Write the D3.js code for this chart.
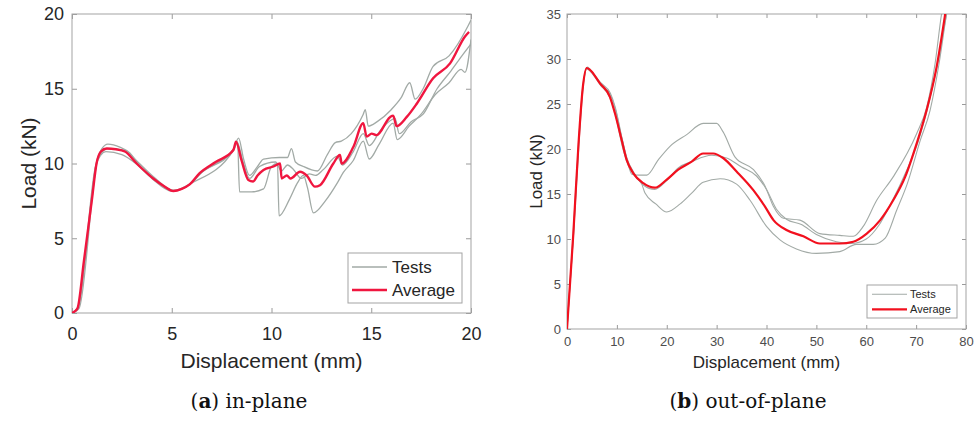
<!DOCTYPE html>
<html>
<head>
<meta charset="utf-8">
<script src="https://cdn.jsdelivr.net/npm/d3@7"></script>
<style>
  body { margin: 0; background: #fff; }
  svg { display: block; }
  .tick line { stroke: #9a9a9a; }
  .domain { display: none; }
</style>
</head>
<body>
<svg id="chart" width="977" height="421"></svg>
<script>
// ---- data (a) in-plane: [displacement mm, load kN] ----
var inPlaneAverage = [[0,0],[0.27,0.3],[0.6,3.5],[1.0,7.6],[1.23,10.0],[1.45,10.8],[1.74,11.0],[2.2,10.95],[2.65,10.8],[3.24,10.0],[4.07,9.0],[4.6,8.5],[5.08,8.16],[5.5,8.3],[5.9,8.6],[6.4,9.35],[7.2,10.1],[8.09,10.9],[8.22,11.46],[8.5,10.2],[8.84,8.9],[9.08,8.8],[9.3,9.2],[9.6,9.57],[10.1,9.8],[10.43,10.0],[10.51,9.0],[10.77,9.2],[10.95,9.0],[11.43,9.45],[11.76,9.2],[12.18,8.45],[12.43,8.55],[13.1,10.0],[13.43,10.57],[13.52,10.0],[14.1,11.1],[14.6,12.7],[14.77,11.8],[15.02,12.0],[15.27,11.9],[15.94,13.1],[16.1,13.2],[16.27,12.5],[16.77,13.1],[17.28,14.0],[18.1,15.7],[18.95,16.7],[19.7,18.5],[19.9,18.8]];
var inPlaneTest1 = [[0,0],[0.3,0.4],[1.25,10.2],[1.5,11.0],[1.8,11.3],[2.4,11.1],[2.9,10.7],[3.3,10.0],[4.1,9.0],[5.1,8.2],[5.9,8.6],[6.5,9.4],[8.1,11.0],[8.35,11.7],[8.6,10.3],[8.9,9.2],[9.3,9.8],[9.6,10.3],[10.4,10.4],[10.8,10.4],[11.0,11.0],[11.2,10.1],[11.6,9.8],[12.3,9.5],[12.8,10.6],[13.2,11.4],[13.5,11.5],[14.0,12.0],[14.6,13.3],[14.7,13.6],[14.85,12.5],[15.3,12.8],[16.0,13.6],[16.5,14.4],[16.93,15.4],[17.2,14.3],[17.6,15.0],[18.1,16.5],[18.9,17.2],[19.85,19.2],[20,19.6]];
var inPlaneTest2 = [[0,0],[0.3,0.3],[1.2,9.9],[1.7,10.8],[2.5,10.6],[3.2,10.0],[4.0,9.0],[5.0,8.15],[5.8,8.5],[6.4,9.3],[8.1,10.9],[8.3,11.4],[8.4,8.1],[9.0,8.1],[9.6,8.3],[10.0,9.8],[10.3,10.0],[10.38,6.5],[10.9,7.6],[11.3,8.7],[11.6,9.2],[11.8,8.4],[12.1,6.7],[12.7,7.5],[13.3,8.7],[13.6,9.4],[14.1,10.2],[14.6,11.5],[14.9,10.3],[15.4,11.3],[16.1,12.7],[16.3,11.6],[16.9,12.5],[17.5,13.3],[18.2,14.6],[18.9,15.4],[19.5,16.3],[19.7,16.1],[20,18.3]];
var inPlaneTest3 = [[0,0],[0.35,0.3],[1.3,10.3],[1.8,11.0],[2.6,10.9],[3.3,10.1],[4.1,9.1],[5.1,8.2],[6.0,8.7],[8.1,10.9],[8.25,11.5],[8.6,10.0],[8.9,9.0],[9.4,9.8],[10.2,10.1],[10.5,9.5],[10.8,9.9],[11.1,9.6],[11.5,9.0],[11.9,9.3],[12.2,9.2],[12.6,9.6],[13.3,10.5],[13.55,9.9],[14.1,10.8],[14.6,12.0],[14.9,11.2],[15.5,12.3],[16.2,13.0],[16.4,12.0],[17.0,12.8],[17.6,13.3],[18.3,15.0],[19.0,16.2],[19.6,17.3],[20,18.0]];
var inPlaneXTicks = [0, 5, 10, 15, 20];
var inPlaneYTicks = [0, 5, 10, 15, 20];

// ---- data (b) out-of-plane ----
var outPlaneAverage = [[0,0],[1.27,10.6],[2.3,20.5],[3.2,27.0],[3.95,29.0],[4.6,28.8],[6.6,27.3],[8.6,25.8],[9.6,24.0],[10.96,21.0],[11.96,18.8],[13.3,17.3],[15.3,16.2],[17.6,15.7],[20.0,16.6],[22.3,17.7],[25.0,18.6],[27.3,19.5],[29.3,19.5],[31.3,19.0],[34.0,17.5],[37.4,15.4],[39.7,13.6],[41.4,12.1],[44.0,11.0],[47.4,10.3],[50.7,9.5],[54.7,9.5],[57.4,9.7],[60.1,10.6],[62.8,12.1],[65.4,14.3],[67.8,16.9],[70.1,20.6],[72.1,24.3],[74.1,29.1],[75.8,34.9],[76.1,36]];
var outPlaneTest1 = [[0,0],[1.3,10.4],[2.4,20.6],[3.3,27.2],[4.1,29.1],[4.8,28.7],[6.8,27.2],[8.8,25.9],[9.8,24.2],[11.0,21.2],[12.0,18.9],[13.0,17.2],[14.5,17.1],[16.0,17.1],[18.3,18.8],[20.65,20.3],[24.0,21.6],[27.3,22.85],[30.0,22.85],[31.3,21.9],[33.7,19.1],[37.4,17.7],[39.7,15.9],[41.4,13.6],[43.4,12.3],[46.7,12.1],[50.7,10.6],[54.7,10.4],[57.4,10.3],[59.4,11.4],[62.1,14.3],[65.4,16.9],[70.1,21.7],[72.1,24.6],[73.8,29.5],[75.1,35],[75.4,36]];
var outPlaneTest2 = [[0,0],[1.3,10.5],[2.3,20.3],[3.2,26.9],[4.0,28.9],[4.7,28.6],[6.7,27.1],[8.7,25.6],[9.8,23.6],[11.0,20.5],[12.2,18.3],[13.6,17.0],[15.0,16.1],[15.64,15.1],[17.8,13.9],[20.0,13.0],[22.7,13.9],[25.0,15.1],[27.3,16.3],[30.7,16.7],[34.0,16.1],[36.7,14.3],[40.0,11.4],[42.7,9.9],[46.0,8.9],[50.0,8.4],[54.7,8.6],[58.0,9.4],[61.4,9.4],[63.8,10.1],[66.1,13.2],[68.2,16.1],[70.8,20.9],[72.8,24.3],[74.6,29.5],[76.1,35],[76.4,36]];
var outPlaneTest3 = [[0,0],[1.25,10.7],[2.3,20.6],[3.2,27.1],[4.0,29.0],[4.7,28.7],[6.7,27.4],[8.7,26.2],[9.7,24.6],[11.0,21.3],[12.0,19.0],[13.4,17.4],[15.3,16.0],[17.6,15.5],[20.0,16.5],[22.3,17.9],[25.0,18.6],[29.0,19.3],[32.0,19.0],[35.0,18.0],[38.0,17.0],[40.0,15.5],[42.0,13.3],[44.0,12.2],[47.0,11.6],[50.0,10.5],[54.0,9.7],[57.0,9.5],[60.0,10.0],[62.5,11.5],[65.0,14.0],[68.0,17.5],[70.5,21.0],[72.5,25.0],[74.5,30.0],[76.3,35.5],[76.5,36]];
var outPlaneXTicks = [0, 10, 20, 30, 40, 50, 60, 70, 80];
var outPlaneYTicks = [0, 5, 10, 15, 20, 25, 30, 35];

var svg = d3.select("#chart");
var fontSans = "'Liberation Sans', Arial, Helvetica, sans-serif";

function drawPanel(p) {
  var x = d3.scaleLinear().domain(p.xDomain).range([p.left, p.right]);
  var y = d3.scaleLinear().domain(p.yDomain).range([p.bottom, p.top]);
  var g = svg.append("g");
  var clipId = "clip" + p.id;

  g.append("clipPath").attr("id", clipId)
    .append("rect")
    .attr("x", p.left).attr("y", p.top)
    .attr("width", p.right - p.left).attr("height", p.bottom - p.top);

  // axes, ticks inward, mirrored on top and right
  var bottomAxis = d3.axisBottom(x).tickValues(p.xTicks).tickSize(-p.tick).tickPadding(p.tick + p.xPad);
  var leftAxis = d3.axisLeft(y).tickValues(p.yTicks).tickSize(-p.tick).tickPadding(p.tick + p.yPad);

  var bx = g.append("g").attr("transform", `translate(0,${p.bottom})`).call(bottomAxis);
  var ly = g.append("g").attr("transform", `translate(${p.left},0)`).call(leftAxis);
  g.append("g").attr("transform", `translate(0,${p.top})`)
    .call(d3.axisTop(x).tickValues(p.xTicks).tickSize(-p.tick).tickFormat(""));
  g.append("g").attr("transform", `translate(${p.right},0)`)
    .call(d3.axisRight(y).tickValues(p.yTicks).tickSize(-p.tick).tickFormat(""));

  [bx, ly].forEach(function(a) {
    a.selectAll("text")
      .attr("font-family", fontSans)
      .attr("font-size", p.tickFont)
      .attr("fill", p.tickColor);
  });

  g.append("rect")
    .attr("x", p.left).attr("y", p.top)
    .attr("width", p.right - p.left).attr("height", p.bottom - p.top)
    .attr("fill", "none").attr("stroke", "#a3a3a3").attr("stroke-width", 1);

  var line = d3.line()
    .x(function(d) { return x(d[0]); })
    .y(function(d) { return y(d[1]); })
    .curve(d3.curveMonotoneX);

  var lines = g.append("g").attr("clip-path", `url(#${clipId})`);
  p.tests.forEach(function(t) {
    lines.append("path").datum(t)
      .attr("d", line).attr("fill", "none")
      .attr("stroke", "#a2aaa6").attr("stroke-width", p.testWidth);
  });
  lines.append("path").datum(p.average)
    .attr("d", line).attr("fill", "none")
    .attr("stroke", p.red).attr("stroke-width", p.avgWidth)
    .attr("stroke-linejoin", "round");

  // labels
  g.append("text")
    .attr("x", (p.left + p.right) / 2).attr("y", p.xLabelY)
    .attr("text-anchor", "middle")
    .attr("font-family", fontSans).attr("font-size", p.labelFont)
    .attr("fill", "#262626")
    .text("Displacement (mm)");
  g.append("text")
    .attr("transform", `translate(${p.yLabelX},${(p.top + p.bottom) / 2}) rotate(-90)`)
    .attr("text-anchor", "middle")
    .attr("font-family", fontSans).attr("font-size", p.labelFont)
    .attr("fill", "#262626")
    .text("Load (kN)");

  // legend
  var L = p.legend;
  var leg = g.append("g");
  leg.append("rect")
    .attr("x", L.x).attr("y", L.y).attr("width", L.w).attr("height", L.h)
    .attr("fill", "#fff").attr("stroke", "#a3a3a3").attr("stroke-width", 1);
  var items = [["Tests", "#a2aaa6", p.testWidth], ["Average", p.red, p.avgWidth]];
  items.forEach(function(it, i) {
    var cy = L.y + L.h * (i === 0 ? 0.28 : 0.74);
    leg.append("line")
      .attr("x1", L.x + L.lineX0).attr("x2", L.x + L.lineX1)
      .attr("y1", cy).attr("y2", cy)
      .attr("stroke", it[1]).attr("stroke-width", it[2]);
    leg.append("text")
      .attr("x", L.x + L.textX).attr("y", cy)
      .attr("dy", "0.35em")
      .attr("font-family", fontSans).attr("font-size", L.font)
      .attr("fill", "#262626")
      .text(it[0]);
  });

  // caption
  var cap = svg.append("text")
    .attr("x", p.capX).attr("y", 408)
    .attr("text-anchor", "middle")
    .attr("font-family", "'DejaVu Serif', 'Liberation Serif', serif")
    .attr("font-size", 20)
    .attr("fill", "#111");
  cap.append("tspan").text("(");
  cap.append("tspan").attr("font-weight", "bold").text(p.capLetter);
  cap.append("tspan").text(") " + p.capText);
}

drawPanel({
  id: "a",
  xDomain: [0, 20], yDomain: [0, 20],
  left: 72, right: 471, top: 14, bottom: 313,
  xTicks: inPlaneXTicks, yTicks: inPlaneYTicks,
  tick: 5, xPad: 9, yPad: 3,
  tickFont: 18, tickColor: "#262626",
  labelFont: 21, xLabelY: 368, yLabelX: 36,
  tests: [inPlaneTest1, inPlaneTest2, inPlaneTest3],
  average: inPlaneAverage,
  red: "#f0163f", avgWidth: 2.4, testWidth: 1.3,
  legend: { x: 348, y: 253, w: 114, h: 50, lineX0: 4, lineX1: 39, textX: 44, font: 17 },
  capX: 249, capLetter: "a", capText: "in-plane"
});

drawPanel({
  id: "b",
  xDomain: [0, 80], yDomain: [0, 35],
  left: 567, right: 966, top: 14, bottom: 329,
  xTicks: outPlaneXTicks, yTicks: outPlaneYTicks,
  tick: 4, xPad: 4, yPad: 2,
  tickFont: 13, tickColor: "#4d4d4d",
  labelFont: 17, xLabelY: 368, yLabelX: 542,
  tests: [outPlaneTest1, outPlaneTest2, outPlaneTest3],
  average: outPlaneAverage,
  red: "#f2101e", avgWidth: 2.2, testWidth: 1.1,
  legend: { x: 867, y: 285, w: 90, h: 33, lineX0: 5, lineX1: 40, textX: 43, font: 11 },
  capX: 748, capLetter: "b", capText: "out-of-plane"
});
</script>
</body>
</html>
